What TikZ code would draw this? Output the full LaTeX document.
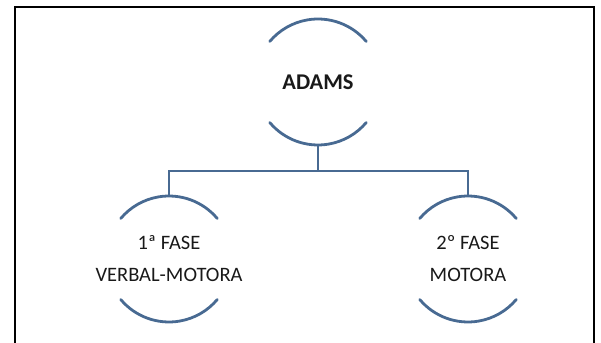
\documentclass[tikz,border=0pt]{standalone}
\usepackage{tikz}
\usepackage{fontspec}
\setmainfont{Carlito}
\definecolor{arcblue}{RGB}{72,106,146}

\begin{document}
\begin{tikzpicture}[x=1pt,y=1pt,
    arcline/.style={draw=arcblue, line width=2.8pt, line cap=round},
    link/.style={draw=arcblue, line width=2.6pt},
    label/.style={align=center, text=black!90, font=\fontsize{20.5}{32}\selectfont}]
    \useasboundingbox (0,0) rectangle (601,342);
    % Frame (open at the bottom)
    \draw[line width=2pt] (15,-5) -- (15,334.5) -- (594,334.5) -- (594,-5);

    % Nodes
    \node[label, font=\fontsize{22.5}{26}\selectfont\bfseries] (adams) at (318,260) {ADAMS};
    \node[label] (fase1) at (169,83) {1ª FASE\\VERBAL-MOTORA};
    \node[label] (fase2) at (468,83) {2º FASE\\MOTORA};

    % Arcs round each node
    \foreach \n in {adams,fase1,fase2} {
        \draw[arcline] ([shift={(40:63)}]\n.center) arc[start angle=40, end angle=140, radius=63];
        \draw[arcline] ([shift={(220:63)}]\n.center) arc[start angle=220, end angle=320, radius=63];
    }

    % Connectors
    \coordinate (fork) at ([yshift=-89]adams.center);
    \draw[link] ([yshift=-63]adams.center) -- (fork);
    \draw[link] (fork) -| ([yshift=63]fase1.center);
    \draw[link] (fork) -| ([yshift=63]fase2.center);
\end{tikzpicture}
\end{document}
